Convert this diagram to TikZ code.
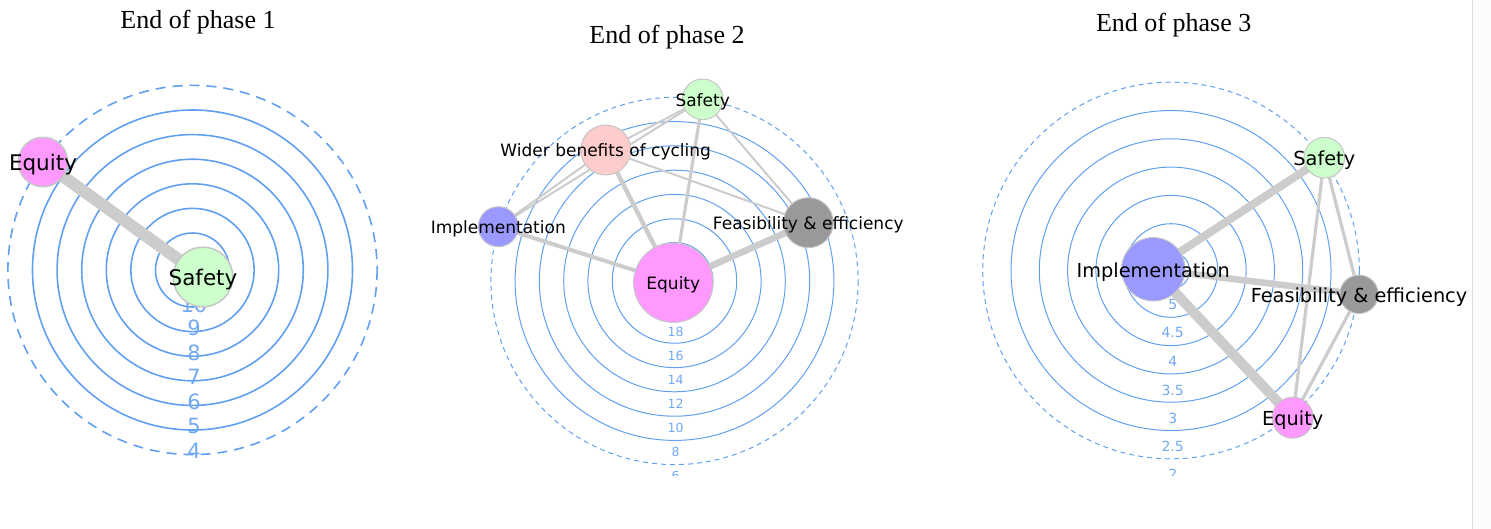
\documentclass[tikz,border=0pt]{standalone}
\usepackage{fontspec}
\setmainfont{DejaVu Sans}
\newfontfamily\titleFont{Liberation Serif}
\usepackage{tikz}
\pgfdeclarelayer{rings}
\pgfdeclarelayer{links}
\pgfsetlayers{rings,links,main}
\definecolor{ringBlue}{HTML}{619FF0}
\definecolor{ringText}{HTML}{72A9F2}
\definecolor{tieGray}{HTML}{CCCCCC}
\definecolor{rimGray}{HTML}{C6C6C6}
\definecolor{stripLine}{HTML}{DDDDDD}
\definecolor{stripFill}{HTML}{FBFBFB}
\definecolor{safetyGreen}{HTML}{CCFFCC}
\definecolor{equityPink}{HTML}{FF99FF}
\definecolor{widerRose}{HTML}{FFCCCC}
\definecolor{implBlue}{HTML}{9999FF}
\definecolor{feasGray}{HTML}{999999}
\newcommand{\pxUnit}{0.5pt}

\begin{document}
\begin{tikzpicture}[x=\pxUnit, y=-\pxUnit]
  \tikzset{
    ring/.style={draw=ringBlue, line width=0.5pt},
    outer ring/.style={ring, dash pattern=on 2.5pt off 2pt},
    ring label/.style={text=ringText, inner sep=0pt, font=\fontsize{6.3}{7}\selectfont},
    bubble/.style={circle, draw=rimGray, line width=0.5pt, inner sep=0pt, minimum size=#1},
    bubble label/.style={anchor=base, inner sep=0pt, yshift=-3.4pt, font=\fontsize{8.5}{10}\selectfont},
    tie/.style={draw=tieGray, line width=#1},
    phase title/.style={anchor=base, inner sep=0pt, font=\titleFont\fontsize{13}{15}\selectfont}
  }
  \useasboundingbox (0,0) rectangle (1491,529);
  \fill[stripFill] (1472,0) rectangle (1491,529);
  \draw[stripLine, line width=0.5pt] (1472,0) -- (1472,529);

  \node[phase title] (title-1) at (198,29) {End of phase 1};
  \node[phase title] (title-2) at (667,43.3) {End of phase 2};
  \node[phase title] (title-3) at (1173.7,31.7) {End of phase 3};

  \begin{scope}[ring/.append style={line width=0.8pt},
      outer ring/.style={ring, dash pattern=on 5pt off 3.5pt},
      ring label/.append style={font=\fontsize{10.5}{12}\selectfont},
      bubble/.append style={line width=0.75pt},
      bubble label/.append style={yshift=-0.9pt, font=\fontsize{10.75}{12}\selectfont}]
    \coordinate (hub-1) at (192.5,270);
    \begin{pgfonlayer}{rings}
      \draw[ring] (hub-1) circle[radius=37] circle[radius=61.6] circle[radius=86.2]
        circle[radius=110.8] circle[radius=135.4] circle[radius=160];
      \draw[outer ring] (hub-1) circle[radius=184.6];
      \node[ring label] (tick-1-10) at (194,305) {10};
      \node[ring label] (tick-1-9) at (194,328) {9};
      \node[ring label] (tick-1-8) at (194,353) {8};
      \node[ring label] (tick-1-7) at (194,377) {7};
      \node[ring label] (tick-1-6) at (194,402) {6};
      \node[ring label] (tick-1-5) at (194,426) {5};
      \node[ring label] (tick-1-4) at (194,451) {4};
    \end{pgfonlayer}
    \node[bubble=24.7pt, fill=equityPink] (Equity-1) at (43,162) {};
    \node[bubble=29.8pt, fill=safetyGreen] (Safety-1) at (203,277) {};
    \node[bubble label] (Equity-1-text) at (Equity-1) {Equity};
    \node[bubble label] (Safety-1-text) at (Safety-1) {Safety};
    \begin{pgfonlayer}{links}
      \draw[tie=6pt] (Equity-1.center) -- (Safety-1.center);
    \end{pgfonlayer}
  \end{scope}

  \begin{scope}
    \coordinate (hub-2) at (674.5,281);
    \begin{pgfonlayer}{rings}
      \begin{scope}
        \clip (480,60) rectangle (870,475);
        \draw[ring] (hub-2) circle[radius=38.5] circle[radius=62.2] circle[radius=86.6]
          circle[radius=110.8] circle[radius=135.2] circle[radius=159.4];
        \draw[outer ring] (hub-2) circle[radius=183.6];
        \node[ring label] (tick-2-18) at (675.7,331.7) {18};
        \node[ring label] (tick-2-16) at (675.7,355.5) {16};
        \node[ring label] (tick-2-14) at (675.7,379.5) {14};
        \node[ring label] (tick-2-12) at (675.7,404) {12};
        \node[ring label] (tick-2-10) at (675.7,428) {10};
        \node[ring label] (tick-2-8) at (675.7,452) {8};
        \node[ring label] (tick-2-6) at (675.7,476) {6};
      \end{scope}
    \end{pgfonlayer}
    \node[bubble=20.3pt, fill=safetyGreen] (Safety-2) at (702.7,99.3) {};
    \node[bubble=25pt, fill=widerRose] (Wider-2) at (605.7,150) {};
    \node[bubble=20pt, fill=implBlue] (Impl-2) at (498.3,226.7) {};
    \node[bubble=25pt, fill=feasGray] (Feas-2) at (808.3,222.7) {};
    \node[bubble=39.7pt, fill=equityPink] (Equity-2) at (673.3,282.7) {};
    \node[bubble label] (Safety-2-text) at (Safety-2) {Safety};
    \node[bubble label] (Wider-2-text) at (Wider-2) {Wider benefits of cycling};
    \node[bubble label] (Impl-2-text) at (Impl-2) {Implementation};
    \node[bubble label] (Feas-2-text) at (Feas-2) {Feasibility \& efficiency};
    \node[bubble label] (Equity-2-text) at (Equity-2) {Equity};
    \begin{pgfonlayer}{links}
      \draw[tie=1pt] (Safety-2.center) -- (Wider-2.center);
      \draw[tie=1pt] (Safety-2.center) -- (Impl-2.center);
      \draw[tie=1pt] (Wider-2.center) -- (Impl-2.center);
      \draw[tie=1pt] (Safety-2.center) -- (Feas-2.center);
      \draw[tie=1pt] (Wider-2.center) -- (Feas-2.center);
      \draw[tie=1.6pt] (Safety-2.center) -- (Equity-2.center);
      \draw[tie=2.2pt] (Wider-2.center) -- (Equity-2.center);
      \draw[tie=2pt] (Impl-2.center) -- (Equity-2.center);
      \draw[tie=3.3pt] (Feas-2.center) -- (Equity-2.center);
    \end{pgfonlayer}
  \end{scope}

  \begin{scope}[ring label/.append style={font=\fontsize{7}{8}\selectfont},
      bubble label/.append style={yshift=-0.5pt, font=\fontsize{9.65}{11}\selectfont}]
    \coordinate (hub-3) at (1171,270.5);
    \begin{pgfonlayer}{rings}
      \begin{scope}
        \clip (975,60) rectangle (1370,475);
        \draw[ring] (hub-3) circle[radius=18.5] circle[radius=46.8] circle[radius=75.1]
          circle[radius=103.4] circle[radius=131.7] circle[radius=160];
        \draw[outer ring] (hub-3) circle[radius=188.3];
        \node[ring label] (tick-3-5) at (1172.7,304.3) {5};
        \node[ring label] (tick-3-45) at (1172.7,332) {4.5};
        \node[ring label] (tick-3-4) at (1172.7,361.7) {4};
        \node[ring label] (tick-3-35) at (1172.7,390) {3.5};
        \node[ring label] (tick-3-3) at (1172.7,418.3) {3};
        \node[ring label] (tick-3-25) at (1172.7,446.7) {2.5};
        \node[ring label] (tick-3-2) at (1172.7,474) {2};
      \end{scope}
    \end{pgfonlayer}
    \node[bubble=20.3pt, fill=safetyGreen] (Safety-3) at (1324.3,157.7) {};
    \node[bubble=31.7pt, fill=implBlue] (Impl-3) at (1153.3,269.3) {};
    \node[bubble=19.2pt, fill=feasGray] (Feas-3) at (1359,294.3) {};
    \node[bubble=20.5pt, fill=equityPink] (Equity-3) at (1292.7,417.7) {};
    \node[bubble label] (Safety-3-text) at (Safety-3) {Safety};
    \node[bubble label] (Impl-3-text) at (Impl-3) {Implementation};
    \node[bubble label] (Feas-3-text) at (Feas-3) {Feasibility \& efficiency};
    \node[bubble label] (Equity-3-text) at (Equity-3) {Equity};
    \begin{pgfonlayer}{links}
      \draw[tie=4pt] (Impl-3.center) -- (Safety-3.center);
      \draw[tie=3.3pt] (Impl-3.center) -- (Feas-3.center);
      \draw[tie=5pt] (Impl-3.center) -- (Equity-3.center);
      \draw[tie=1.6pt] (Safety-3.center) -- (Equity-3.center);
      \draw[tie=1.6pt] (Safety-3.center) -- (Feas-3.center);
      \draw[tie=1.6pt] (Feas-3.center) -- (Equity-3.center);
    \end{pgfonlayer}
  \end{scope}
\end{tikzpicture}
\end{document}
